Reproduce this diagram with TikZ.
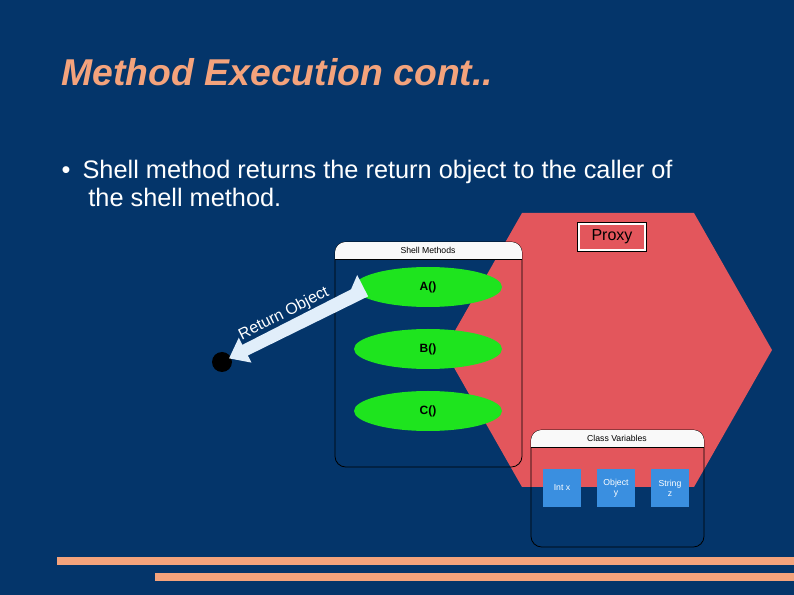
\documentclass[tikz,border=0pt]{standalone}
\usepackage{fontspec}
\setmainfont{Liberation Sans}
\usetikzlibrary{shapes.geometric,shapes.arrows,calc}
\definecolor{bg}{HTML}{04356A}
\definecolor{orng}{HTML}{F4A37C}
\definecolor{hexred}{HTML}{E3565C}
\definecolor{grn}{HTML}{1EE41E}
\definecolor{blu}{HTML}{3A8FE0}
\tikzset{
  panel/.style={draw=black,rounded corners=8pt,line width=0.6pt},
  meth/.style={ellipse,fill=grn,minimum width=111pt,minimum height=30pt,font=\bfseries\fontsize{9}{10}\selectfont},
  var/.style={fill=blu,minimum width=28pt,minimum height=28pt,inner sep=0pt,align=center,text=white,font=\fontsize{6.5}{7.5}\selectfont},
  hdr/.style={font=\fontsize{6.5}{7.5}\selectfont},
  bar/.style={fill=orng}
}
\begin{document}
\begin{tikzpicture}[x=0.75pt,y=-0.75pt]
\fill[bg] (0,0) rectangle (794,595);
\useasboundingbox (0,0) rectangle (794,595);
\node[anchor=west,text=orng,font=\bfseries\itshape\fontsize{28}{32}\selectfont] (title) at (57,72) {Method Execution cont..};
\node[anchor=north west,text=white,align=left,font=\fontsize{19}{21}\selectfont] (bul) at (57,155)
  {\textbullet\hspace{9pt}Shell method returns the return object to the caller of\\\hspace{20pt}the shell method.};
% hexagon
\fill[hexred] (522,213) -- (694,213) -- (772,350) -- (694,487) -- (522,487) -- (444,350) -- cycle;
% shell methods
\draw[panel] (335,242) rectangle (522,467);
\begin{scope}
\clip[rounded corners=8pt] (335,242) rectangle (522,467);
\fill[white!95!gray] (335,242) rectangle (522,259);
\end{scope}
\draw (335,259) -- (522,259);
\node[hdr] (smh) at (428,250) {Shell Methods};
\node[meth] (A) at (428,287) {A()};
\node[meth] (B) at (428,349) {B()};
\node[meth] (C) at (428,411) {C()};
% class variables
\draw[panel] (531,430) rectangle (704,547);
\begin{scope}
\clip[rounded corners=8pt] (531,430) rectangle (704,547);
\fill[white!95!gray] (531,430) rectangle (704,447);
\end{scope}
\draw (531,447) -- (704,447);
\node[hdr] (cvh) at (617,438) {Class Variables};
\node[var] (x) at (562,488) {Int x};
\node[var] (y) at (616,488) {Object\\y};
\node[var] (z) at (670,488) {String\\z};
% proxy
\node[draw=black,double=white,double distance=1.5pt,fill=hexred,minimum width=50pt,minimum height=20pt,inner sep=2pt,font=\fontsize{12}{14}\selectfont] (proxy) at (612,237) {Proxy};
% caller dot and arrow
\node[circle,fill=black,minimum size=15pt,inner sep=0pt] (dot) at (222,362) {};
\coordinate (src) at (363,290);
\fill[white!85!blu]
  let \p1=($(src)-(dot.center)$), \n1={atan2(\y1,\x1)} in
  [rotate around={\n1:(dot.center)}]
  ($(dot.center)+(8,0)$) -- ($(dot.center)+(26,-14)$) -- ($(dot.center)+(26,-6)$)
  -- ($(dot.center)+(148,-6)$) -- ($(dot.center)+(160,-16)$) -- ($(dot.center)+(160,8)$)
  -- ($(dot.center)+(26,6)$) -- ($(dot.center)+(26,14)$) -- cycle;
\node[rotate=27,font=\fontsize{12}{14}\selectfont,text=white] (ret) at (284,314) {Return Object};
% bars
\fill[bar] (57,557) rectangle (794,565);
\fill[bar] (155,573) rectangle (794,581);
\end{tikzpicture}
\end{document}
